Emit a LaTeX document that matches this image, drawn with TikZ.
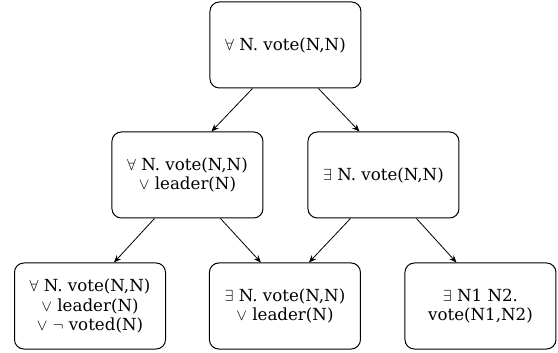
\documentclass[tikz,border=0pt]{standalone}
\usepackage{fontspec}
\setmainfont{DejaVu Serif}
\usepackage{tikz}
\usetikzlibrary{arrows,arrows.meta,positioning,calc}

\begin{document}
\begin{tikzpicture}[scale=1.0,transform shape]
        \tikzstyle{roundblock}=[rectangle, draw, rounded corners=7pt, line width=0.75pt,
          minimum width=113.25pt, minimum height=64.5pt, inner sep=0pt,
          align=center, font=\fontsize{12.5}{14.5}\selectfont]
        \tikzstyle{edge}=[-{Stealth[length=5.5pt,width=4.5pt]}, line width=0.6pt]
        \useasboundingbox (0,0) rectangle (418.5pt,-264.75pt);
        \node[roundblock] (P) at (214.1pt,-33.75pt) {$\forall$ N. vote(N,N)};
        \node[roundblock, below = 32.25pt of P, xshift=-73.5pt] (L) {$\forall$ N. vote(N,N)\\ $\vee$ leader(N)};
        \node[roundblock, below = 32.25pt of P, xshift=73.5pt] (R) {$\exists$ N. vote(N,N)};
        \node[roundblock, below = 33pt of L, xshift=-73.1pt] (LL) {$\forall$ N. vote(N,N)\\ $\vee$ leader(N)\\ $\vee$ $\neg$ voted(N)};
        \node[roundblock, below = 33pt of L, xshift=73.1pt] (LM) {$\exists$ N. vote(N,N)\\ $\vee$ leader(N)};
        \node[roundblock, below = 33pt of R, xshift=72.75pt] (RR) {$\exists$ N1 N2.\\ vote(N1,N2)};
        \draw [edge] ($(P.south)+(-24.75pt,0)$) -- ($(L.north)+(18pt,0)$);
        \draw [edge] ($(P.south)+(24.75pt,0)$) -- ($(R.north)+(-18pt,0)$);
        \draw [edge] ($(L.south)+(-24.75pt,0)$) -- ($(LL.north)+(18pt,0)$);
        \draw [edge] ($(L.south)+(24.75pt,0)$) -- ($(LM.north)+(-18pt,0)$);
        \draw [edge] ($(R.south)+(-24.75pt,0)$) -- ($(LM.north)+(18pt,0)$);
        \draw [edge] ($(R.south)+(24.75pt,0)$) -- ($(RR.north)+(-18pt,0)$);
      \end{tikzpicture}
\end{document}
